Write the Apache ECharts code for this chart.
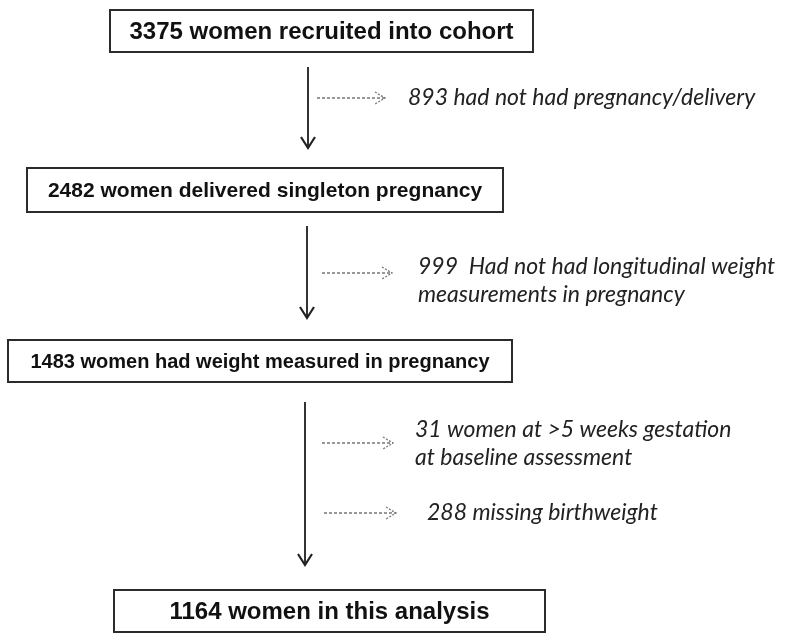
<!DOCTYPE html>
<html>
<head>
    <meta charset="utf-8">
    <title>Flow chart</title>
    <script src="https://cdn.jsdelivr.net/npm/echarts@6/dist/echarts.min.js"></script>
    <style>
        html, body { margin: 0; padding: 0; background: #fff; }
        #chart { width: 791px; height: 633px; }
    </style>
</head>
<body>
<div id="chart"></div>
<script type="text/javascript">
    // texts of the main boxes, top to bottom
    var boxLabels = [
        '3375 women recruited into cohort',
        '2482 women delivered singleton pregnancy',
        '1483 women had weight measured in pregnancy',
        '1164 women in this analysis'
    ];
    // texts of the exclusions on the right
    var exclusionLabels = [
        '893 had not had pregnancy/delivery',
        '999  Had not had longitudinal weight\nmeasurements in pregnancy',
        '31 women at >5 weeks gestation\nat baseline assessment',
        '288 missing birthweight'
    ];

    // layout (chart units, x to the right, y downwards)
    var boxRects = [[110, 10, 533, 52], [27, 168, 503, 212], [8, 340, 512, 382], [114, 590, 545, 632]];
    var boxFontSizes = [24, 21, 20, 24];
    var downArrows = [[308, 67, 148], [307, 226, 318], [305, 402, 565]];
    var sideArrows = [[317, 385, 98], [322, 392, 273], [322, 393, 443], [324, 396, 513]];
    var sideTextPos = [[408, 98], [418, 281], [415, 444], [427, 513]];

    var myChart = echarts.init(document.getElementById('chart'));

    function renderBox(params, api) {
        var p0 = api.coord([api.value(0), api.value(1)]);
        var p1 = api.coord([api.value(2), api.value(3)]);
        return {
            type: 'group',
            children: [{
                type: 'rect',
                shape: {x: p0[0], y: p0[1], width: p1[0] - p0[0], height: p1[1] - p0[1]},
                style: {fill: '#fff', stroke: '#2b2b2b', lineWidth: 2}
            }, {
                type: 'text',
                style: {
                    text: boxLabels[params.dataIndex],
                    x: (p0[0] + p1[0]) / 2,
                    y: (p0[1] + p1[1]) / 2 + 1,
                    align: 'center',
                    verticalAlign: 'middle',
                    font: 'bold ' + boxFontSizes[params.dataIndex] + 'px "Liberation Sans", Arial, sans-serif',
                    fill: '#111'
                }
            }]
        };
    }

    function renderDownArrow(params, api) {
        var a = api.coord([api.value(0), api.value(1)]);
        var b = api.coord([api.value(0), api.value(2)]);
        return {
            type: 'group',
            children: [{
                type: 'line',
                shape: {x1: a[0], y1: a[1], x2: b[0], y2: b[1]},
                style: {stroke: '#333', lineWidth: 2}
            }, {
                type: 'polyline',
                shape: {points: [[b[0] - 7, b[1] - 11], [b[0], b[1]], [b[0] + 7, b[1] - 11]]},
                style: {stroke: '#222', lineWidth: 2.2, fill: null}
            }]
        };
    }

    function renderSideArrow(params, api) {
        var a = api.coord([api.value(0), api.value(2)]);
        var b = api.coord([api.value(1), api.value(2)]);
        return {
            type: 'group',
            children: [{
                type: 'line',
                shape: {x1: a[0], y1: a[1], x2: b[0], y2: b[1]},
                style: {stroke: '#777', lineWidth: 1.5, lineDash: [3, 2]}
            }, {
                type: 'polyline',
                shape: {points: [[b[0] - 10, b[1] - 6], [b[0], b[1]], [b[0] - 10, b[1] + 6]]},
                style: {stroke: '#777', lineWidth: 1.3, lineDash: [2, 1.5], fill: null}
            }]
        };
    }

    function renderSideText(params, api) {
        var p = api.coord([api.value(0), api.value(1)]);
        return {
            type: 'text',
            style: {
                text: exclusionLabels[params.dataIndex],
                x: p[0],
                y: p[1],
                align: 'left',
                verticalAlign: 'middle',
                font: 'italic 23px Lato, "Open Sans", sans-serif',
                lineHeight: 28,
                fill: '#222'
            }
        };
    }

    myChart.setOption({
        animation: false,
        grid: {left: 0, right: 0, top: 0, bottom: 0},
        xAxis: {type: 'value', min: 0, max: 791, show: false},
        yAxis: {type: 'value', min: 0, max: 633, inverse: true, show: false},
        series: [
            {type: 'custom', renderItem: renderDownArrow, data: downArrows, silent: true},
            {type: 'custom', renderItem: renderSideArrow, data: sideArrows, silent: true},
            {type: 'custom', renderItem: renderBox, data: boxRects, silent: true},
            {type: 'custom', renderItem: renderSideText, data: sideTextPos, silent: true}
        ]
    });
</script>
</body>
</html>
